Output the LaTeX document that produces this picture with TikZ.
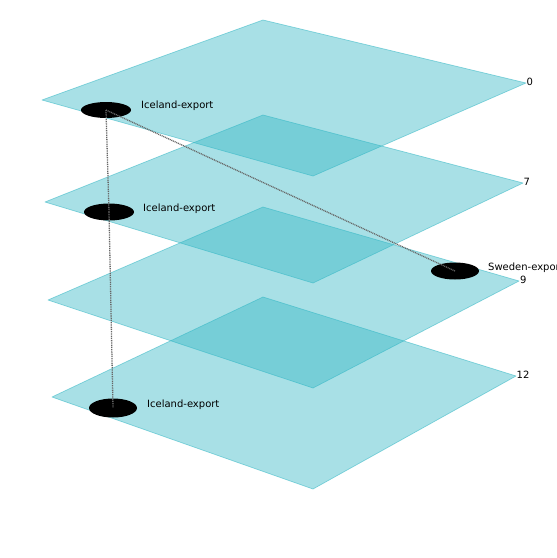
\documentclass[tikz,border=0pt]{standalone}
\usepackage{fontspec}
\setmainfont{DejaVu Sans}
\usetikzlibrary{shapes.geometric}
\definecolor{layerc}{RGB}{48,181,195}
\tikzset{
  layer/.style={fill=layerc, fill opacity=0.42, draw=layerc, draw opacity=0.55, line width=0.7pt, line join=round},
  entity/.style={ellipse, fill=black, inner sep=0pt},
  elabel/.style={anchor=west, font=\fontsize{10}{12}\selectfont, inner sep=0pt},
  llabel/.style={anchor=south west, font=\fontsize{10}{12}\selectfont, inner sep=0pt},
  link/.style={dash pattern=on 1pt off 0.8pt, draw=black!60, line width=1.3pt}
}
\begin{document}
\begin{tikzpicture}[x=1pt,y=-1pt]
\useasboundingbox (0,0) rectangle (557,558);
% layers
\draw[layer] (42,100) -- (263,20) -- (526,83) -- (313,176) -- cycle;
\draw[layer] (45,202) -- (263,115) -- (523,183) -- (313,283) -- cycle;
\draw[layer] (48,300) -- (263,207) -- (519,281) -- (313,388) -- cycle;
\draw[layer] (52,397) -- (263,297) -- (516,376) -- (313,489) -- cycle;
% layer labels
\node[llabel] (l0) at (526.5,86) {0};
\node[llabel] (l7) at (523.5,186) {7};
\node[llabel] (l9) at (520,284) {9};
\node[llabel] (l12) at (516.5,379) {12};
% entities
\node[entity, minimum width=50pt, minimum height=16pt] (i0) at (106,110) {};
\node[entity, minimum width=50pt, minimum height=17pt] (i7) at (109,212) {};
\node[entity, minimum width=48pt, minimum height=17pt] (s9) at (455,271) {};
\node[entity, minimum width=48pt, minimum height=19pt] (i12) at (113,408) {};
\node[elabel] (ti0) at (141,106) {Iceland-export};
\node[elabel] (ti7) at (143,209) {Iceland-export};
\node[elabel] (ts9) at (488,268) {Sweden-export};
\node[elabel] (ti12) at (147,405) {Iceland-export};
% links
\draw[link] (i0.center) -- (i7.center);
\draw[link] (i7.center) -- (i12.center);
\draw[link] (i0.center) -- (s9.center);
\end{tikzpicture}
\end{document}
